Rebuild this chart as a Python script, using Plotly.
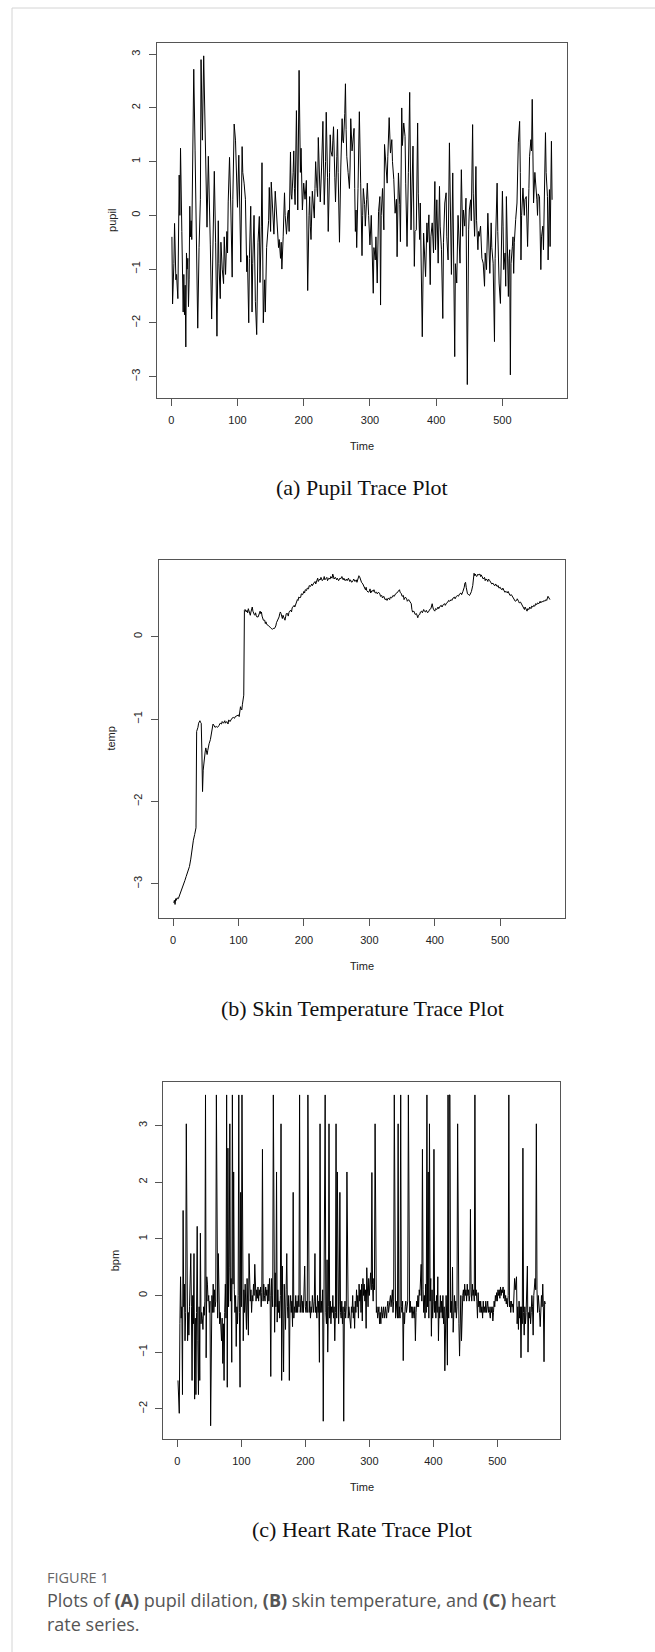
import plotly.graph_objects as go

# ---------------- data ----------------
pupil_time = [1,2,4,5,7,8,10,12,13,14,16,17,18,19,20,21,22,23,24,25,26,27,28,29,30,31,34,36,38,40,42,44,45,47,49,51,54,56,58,59,61,63,65,67,69,71,72,74,75,77,79,80,82,84,85,86,88,90,92,93,95,97,99,100,102,103,105,107,108,110,112,114,115,117,118,120,122,123,125,127,129,131,133,134,136,137,138,139,141,142,144,145,147,148,150,151,152,154,155,157,158,160,162,163,165,166,167,169,171,172,174,176,177,178,180,181,182,184,185,186,187,189,190,191,193,195,196,197,198,200,201,202,204,206,208,209,210,211,213,214,216,217,218,220,221,222,224,225,227,229,230,231,233,234,236,237,239,240,241,243,244,245,247,248,250,251,252,254,256,258,259,260,262,263,264,265,267,269,270,271,273,274,276,277,278,279,280,282,284,286,288,289,290,292,293,295,296,298,300,302,303,305,306,308,309,311,313,315,316,317,319,321,322,324,326,327,329,331,333,334,336,338,340,341,343,345,346,348,349,351,353,354,356,358,360,362,363,365,367,368,370,372,373,375,376,379,381,382,384,386,387,389,391,392,394,396,398,399,401,403,405,406,408,410,411,413,415,416,418,420,421,423,425,426,428,429,431,433,434,436,438,439,440,441,443,445,447,449,450,452,453,455,456,458,460,461,463,464,465,467,468,469,471,473,474,476,478,479,481,483,484,486,488,489,490,492,493,495,497,498,500,501,502,504,505,506,507,509,510,511,512,513,515,516,517,518,520,522,524,526,527,528,529,531,533,534,536,537,538,540,541,543,544,545,546,547,549,550,552,553,554,556,557,558,559,561,562,564,565,566,568,569,570,571,572,573,574,575]
pupil_values = [-0.40,-1.65,-0.90,-0.15,-1.20,-1.10,-1.55,0.75,0.00,1.25,-0.30,-1.00,-1.80,-1.10,-1.85,-1.30,-2.45,-0.70,-1.00,-0.80,-1.70,-1.20,0.17,-0.40,-0.10,-0.45,2.72,1.20,-0.50,-2.10,-0.60,0.30,2.90,1.40,2.97,1.90,-0.22,1.10,0.20,-0.55,-1.93,-0.80,0.82,-0.50,-2.25,-0.10,-0.90,-1.55,-0.50,-1.00,-1.27,-0.40,-1.10,-0.30,-0.70,0.25,1.08,0.10,-1.15,0.30,1.70,1.40,0.50,0.15,1.12,0.30,-0.87,1.28,0.80,0.60,0.30,-1.05,-0.75,-2.00,-0.80,0.17,-1.80,-0.90,0.00,-1.60,-2.22,-0.50,-0.02,-1.25,-0.20,0.98,-0.40,-2.00,-1.20,-1.80,-0.60,-0.45,-0.10,0.52,-0.30,0.62,0.40,0.10,-0.35,0.45,0.18,-0.10,-0.60,-0.45,-0.80,-0.50,-1.00,-0.40,0.42,0.00,-0.35,0.05,0.10,-0.30,1.18,0.40,0.30,0.80,1.20,0.50,0.20,1.95,0.90,0.10,2.70,0.80,1.25,0.60,0.10,0.60,0.50,0.30,0.65,-1.40,0.00,0.35,-0.20,-0.45,0.45,0.20,-0.05,0.50,1.00,0.50,0.35,1.45,0.80,0.25,0.90,1.75,0.90,0.20,1.00,1.92,0.70,-0.30,0.80,1.50,1.20,1.10,1.40,1.65,0.70,0.25,1.10,1.60,0.80,-0.50,0.90,1.80,1.40,1.35,1.90,2.45,1.60,1.10,0.80,0.50,0.90,1.80,1.20,1.35,1.62,0.50,-0.30,0.10,-0.60,0.50,1.93,0.60,-0.75,0.00,0.50,0.20,-0.20,0.30,0.60,0.00,-0.55,0.00,-0.55,-1.45,-0.60,-0.83,-0.40,-1.26,0.07,0.35,-1.67,0.00,0.50,-0.27,1.32,0.95,0.60,1.10,1.82,1.16,1.41,1.00,0.67,0.04,0.30,-0.77,0.79,0.20,-0.49,2.00,1.30,1.72,1.47,0.60,-0.58,0.80,2.29,-0.27,0.50,1.29,-0.95,-0.30,-0.27,1.72,0.40,-0.45,0.23,-2.26,-0.33,-0.60,-1.14,-0.14,-0.50,0.01,-1.29,-0.40,-0.14,-0.70,0.63,-0.64,0.29,-0.89,0.54,-0.20,-0.64,-1.92,-0.50,0.23,0.42,-0.40,-0.83,1.35,0.10,-1.10,0.79,-0.30,-2.63,-0.90,-1.26,0.00,-0.40,-0.89,0.85,0.20,-0.39,0.10,-0.20,0.32,-3.15,-0.27,0.10,0.29,-0.10,1.69,0.40,-0.39,0.91,-0.10,-0.64,-0.30,-0.39,-0.20,-0.52,-0.80,-0.89,-1.32,-0.70,-1.01,0.04,-0.40,-1.08,-0.14,-0.60,-0.89,-2.35,-0.80,-0.20,0.60,-0.30,-1.26,-1.64,-0.60,0.45,-0.20,-1.01,-0.70,-1.32,0.35,-0.40,-1.51,-0.80,-0.64,-2.97,-0.90,-0.58,-0.40,-1.08,-0.50,-0.08,0.23,1.35,1.75,0.80,-0.83,0.00,0.51,0.00,0.30,0.35,-0.20,-0.58,0.50,1.10,1.41,1.20,2.16,1.00,0.23,0.80,0.67,0.29,0.00,0.40,0.35,-0.30,-1.01,-0.40,-0.20,-0.64,0.60,1.54,0.80,0.35,-0.83,0.20,0.48,-0.58,0.10,1.38,0.29]

temp_time = [1,2,3,4,5,6,8,10,12,14,15,17,18,20,22,24,25,27,28,30,31,33,35,36,37,38,39,40,41,42,43,44,45,46,47,48,49,50,51,52,53,54,55,57,58,59,60,61,62,64,66,68,70,72,74,75,77,79,80,82,84,85,87,89,90,92,94,95,97,99,100,101,102,103,104,105,106,107,108,109,110,111,112,113,114,115,116,117,118,119,120,121,122,123,124,125,126,127,128,130,131,132,133,134,135,136,137,138,140,141,142,143,145,147,148,150,152,153,155,157,158,160,162,163,164,165,166,167,168,170,171,172,173,175,176,177,178,180,181,182,184,185,186,188,190,191,192,194,195,196,198,200,201,202,204,205,207,208,210,212,213,215,217,218,220,221,222,224,225,226,228,230,231,232,234,235,236,238,240,241,243,244,245,246,248,250,251,253,255,256,258,260,261,263,265,266,268,270,271,273,275,276,278,280,281,283,284,285,286,288,290,291,293,294,295,296,298,300,301,302,304,306,307,309,311,312,314,316,317,319,320,322,324,326,327,329,331,332,334,336,338,340,342,344,346,347,349,350,352,353,355,357,358,360,362,363,364,365,366,368,370,372,373,374,375,377,378,380,381,383,384,386,387,389,391,392,394,396,397,398,400,401,403,405,406,408,410,411,413,415,416,418,420,421,423,425,426,428,430,431,433,435,436,438,440,441,443,444,445,446,447,448,449,450,452,453,455,456,458,459,460,461,462,463,464,466,467,469,470,471,473,474,476,477,478,480,481,482,484,486,487,489,490,492,493,495,497,498,500,501,503,504,506,507,509,511,512,514,515,517,519,520,522,523,525,526,528,529,531,533,534,536,537,538,540,541,542,544,545,547,548,550,551,553,554,556,557,559,561,562,564,565,567,568,570,571,573,574,576]
temp_values = [-3.23,-3.20,-3.25,-3.18,-3.20,-3.17,-3.18,-3.14,-3.10,-3.06,-3.03,-2.99,-2.96,-2.91,-2.87,-2.82,-2.79,-2.70,-2.62,-2.52,-2.47,-2.40,-2.32,-1.15,-1.13,-1.10,-1.05,-1.02,-1.02,-1.04,-1.05,-1.40,-1.88,-1.62,-1.52,-1.45,-1.40,-1.35,-1.38,-1.43,-1.38,-1.33,-1.30,-1.25,-1.20,-1.15,-1.09,-1.06,-1.07,-1.10,-1.09,-1.10,-1.08,-1.05,-1.06,-1.03,-1.05,-1.02,-1.05,-1.03,-1.06,-1.01,-1.03,-1.00,-0.99,-0.98,-0.99,-0.97,-0.96,-0.95,-0.95,-0.97,-0.90,-0.85,-0.88,-0.89,-0.82,-0.78,-0.71,0.32,0.33,0.31,0.30,0.32,0.29,0.34,0.32,0.30,0.26,0.30,0.33,0.36,0.31,0.28,0.27,0.26,0.29,0.26,0.24,0.24,0.27,0.30,0.31,0.28,0.30,0.25,0.22,0.20,0.20,0.16,0.18,0.15,0.14,0.12,0.11,0.10,0.09,0.10,0.10,0.13,0.17,0.20,0.24,0.28,0.30,0.28,0.25,0.22,0.26,0.22,0.20,0.24,0.28,0.28,0.25,0.29,0.31,0.32,0.30,0.35,0.37,0.38,0.36,0.42,0.45,0.44,0.48,0.47,0.48,0.52,0.51,0.55,0.53,0.57,0.56,0.59,0.58,0.62,0.61,0.64,0.62,0.65,0.67,0.64,0.69,0.71,0.67,0.70,0.69,0.72,0.68,0.70,0.73,0.69,0.71,0.72,0.68,0.71,0.70,0.73,0.71,0.76,0.74,0.70,0.72,0.69,0.71,0.68,0.71,0.70,0.73,0.69,0.71,0.68,0.70,0.68,0.71,0.67,0.69,0.66,0.68,0.70,0.67,0.69,0.66,0.71,0.74,0.73,0.70,0.66,0.64,0.62,0.60,0.57,0.60,0.56,0.54,0.55,0.58,0.53,0.56,0.55,0.57,0.53,0.54,0.52,0.54,0.52,0.49,0.50,0.47,0.49,0.45,0.46,0.44,0.47,0.45,0.48,0.47,0.50,0.49,0.52,0.53,0.55,0.57,0.54,0.52,0.49,0.50,0.45,0.48,0.46,0.43,0.45,0.43,0.42,0.40,0.33,0.30,0.31,0.27,0.28,0.25,0.23,0.26,0.27,0.30,0.31,0.29,0.33,0.31,0.30,0.32,0.29,0.31,0.33,0.34,0.40,0.36,0.33,0.31,0.34,0.33,0.36,0.34,0.37,0.38,0.36,0.39,0.40,0.38,0.41,0.42,0.44,0.43,0.45,0.44,0.47,0.48,0.46,0.49,0.50,0.49,0.52,0.53,0.51,0.55,0.57,0.60,0.65,0.66,0.60,0.55,0.52,0.51,0.50,0.53,0.55,0.62,0.72,0.77,0.74,0.76,0.74,0.73,0.76,0.75,0.76,0.73,0.75,0.72,0.70,0.72,0.68,0.70,0.69,0.67,0.70,0.68,0.66,0.64,0.65,0.63,0.62,0.64,0.61,0.62,0.59,0.60,0.58,0.57,0.59,0.56,0.54,0.55,0.53,0.55,0.52,0.50,0.51,0.48,0.47,0.45,0.43,0.44,0.46,0.43,0.41,0.42,0.39,0.37,0.35,0.33,0.36,0.32,0.31,0.34,0.33,0.36,0.34,0.37,0.36,0.38,0.37,0.40,0.39,0.41,0.40,0.43,0.41,0.43,0.42,0.44,0.43,0.45,0.44,0.49,0.47,0.45]

bpm_values = [
 -1.50,-1.80,-2.08,-0.50,0.33,-0.40,-0.20,-1.75,1.50,-0.20,
 0.20,-0.80,-0.30,3.03,-0.20,-0.80,-0.30,-0.70,-0.20,0.52,
 0.74,-0.20,-1.50,0.00,-0.50,0.74,-1.83,-0.40,-1.75,-0.30,
 1.22,-0.80,-1.75,-0.20,-1.50,1.10,-0.50,-0.30,-0.40,-0.60,
 -0.20,-0.35,-0.10,3.54,-1.10,0.33,0.20,-0.10,0.00,-0.30,
 -0.10,-2.30,-0.20,0.00,-0.30,0.20,-0.30,0.10,-0.20,-0.10,
 3.54,0.20,-0.40,0.74,-0.10,-0.50,-0.30,-0.50,-0.80,-0.40,
 -1.20,-0.50,-1.50,-0.30,0.20,-0.40,3.54,-1.62,2.60,-0.20,
 0.50,3.03,-0.10,0.30,-1.18,3.54,0.20,2.18,0.10,-0.30,
 0.00,-0.90,-0.20,-0.50,0.00,3.54,-0.30,-1.62,1.82,-0.20,
 3.54,-0.10,-0.80,0.10,-0.30,0.20,-0.40,-0.60,0.30,-0.20,
 -0.70,0.74,0.00,-0.10,0.10,-0.30,0.00,-0.10,0.20,0.00,
 0.55,0.00,-0.10,0.10,-0.05,0.15,-0.10,0.10,0.00,0.15,
 -0.20,0.05,2.58,-0.10,0.20,0.00,-0.10,0.15,0.00,0.10,
 -0.15,0.20,-0.10,0.30,0.00,-1.43,0.30,0.00,-0.20,3.54,
 0.20,-0.65,0.40,-0.20,2.18,-0.47,0.10,-0.30,-0.10,-0.40,
 0.00,3.03,-1.50,0.52,-0.40,-1.35,0.20,-0.30,-0.60,0.10,
 0.74,-0.20,-0.40,0.00,-1.50,-0.20,0.00,-0.30,-0.10,-0.55,
 1.82,-0.40,-0.20,-0.30,0.00,-0.30,-0.10,-0.30,0.00,-0.20,
 3.54,-0.30,-0.20,0.00,-0.30,-0.10,-0.30,0.00,0.52,-0.20,
 -0.30,-0.10,-0.30,3.54,-0.20,-0.30,-0.10,-0.40,-0.20,-0.30,
 0.00,-0.20,-0.30,-0.10,0.74,-0.30,-0.20,-0.40,0.00,-0.30,
 -0.10,-1.18,3.03,-0.30,-0.10,-0.30,0.10,-2.22,-0.20,-0.40,
 3.54,-0.30,-0.50,0.63,-1.00,-0.20,3.03,-0.40,-0.10,-0.50,
 -0.20,-0.30,0.00,-0.40,-0.20,-0.80,-0.30,3.03,-0.40,2.18,
 -0.20,-0.50,-0.10,1.82,-0.30,-0.40,-0.10,-0.50,-0.20,-2.22,
 -0.30,-0.10,-0.40,-0.20,2.18,-0.30,-0.40,-0.20,-0.30,-0.40,
 -0.58,-0.20,-0.30,0.00,-0.40,-0.20,-0.58,-0.10,-0.30,0.10,
 -0.20,0.00,-0.40,0.20,-0.10,0.10,-0.30,0.20,-0.45,0.30,
 0.00,0.20,-0.10,0.10,-0.58,0.49,0.10,-0.20,0.30,0.00,
 0.20,0.40,0.10,2.17,0.20,-0.10,0.30,0.10,3.03,0.20,
 -0.30,-0.20,-0.40,-0.30,-0.20,-0.50,-0.30,-0.50,-0.20,-0.30,
 -0.40,-0.20,-0.30,-0.40,-0.20,-0.30,-0.40,-0.20,-0.10,-0.30,
 -0.20,-0.10,0.00,-0.20,-0.10,0.10,-0.30,-0.10,3.54,-0.20,
 -0.40,-0.10,-0.30,-0.40,3.03,-0.40,-0.20,-0.40,3.54,-0.20,
 -0.30,-0.10,-1.15,-0.30,-0.50,-0.20,-0.10,-0.30,-0.20,-0.10,
 3.54,-0.20,-0.30,-0.10,-0.30,-0.20,-0.40,-0.20,-0.30,-0.40,
 -0.20,-0.80,-0.30,-0.10,-0.20,0.00,-0.20,0.10,0.00,0.30,
 0.55,-0.10,2.58,0.10,-0.30,0.00,-0.40,0.20,-0.30,3.54,
 -0.20,2.18,-0.40,3.03,-0.10,0.30,-0.72,0.10,-0.40,-0.10,
 2.58,-0.30,-0.10,-0.40,0.00,-0.30,0.33,-0.80,-0.20,-0.40,
 0.00,-0.30,-0.10,-0.40,0.00,-0.50,-0.20,-1.33,-0.30,0.00,
 -0.40,-1.23,3.54,-0.40,3.54,3.54,-0.30,-0.10,-0.40,0.50,
 -0.65,-0.20,0.00,-0.30,-0.10,-0.40,-0.20,3.03,-0.20,-0.50,
 -1.07,-0.30,0.00,-0.80,-0.10,0.00,0.10,-0.10,0.20,0.00,
 0.10,-0.10,0.20,0.00,0.10,-0.10,0.00,1.52,0.10,-0.10,
 0.20,0.00,0.10,-0.10,3.54,0.00,0.10,-0.10,-0.40,0.05,
 -0.20,-0.10,-0.30,-0.10,-0.30,-0.20,-0.40,-0.10,-0.30,-0.20,
 -0.30,-0.10,-0.30,-0.20,-0.10,-0.30,-0.20,-0.30,-0.40,-0.20,
 -0.30,-0.20,-0.45,-0.30,-0.10,-0.20,0.00,-0.10,0.05,-0.10,
 0.10,0.00,0.10,-0.05,0.15,0.00,0.10,0.05,0.15,-0.05,
 0.10,-0.10,0.00,-0.15,-0.05,-0.20,0.00,3.54,-0.20,-0.10,
 -0.30,-0.10,-0.20,-0.15,-0.30,0.10,0.30,0.10,0.30,0.33,
 -0.50,-0.20,-0.60,-0.10,-0.40,-0.20,-1.10,-0.20,-0.50,2.60,
 -0.30,-0.70,-0.20,-0.50,-0.30,0.10,0.52,-1.00,-0.30,-0.40,
 -0.20,-0.50,-0.30,0.00,-0.20,-0.70,0.00,0.20,0.30,0.10,
 3.03,0.10,-0.30,0.00,-0.10,-0.30,-0.55,-0.10,0.00,-0.20,
 0.20,-0.20,-1.17,-0.10,-0.15]
bpm_time = list(range(1, len(bpm_values) + 1))

x_ticks = [0, 100, 200, 300, 400, 500]
pupil_ticks = [-3, -2, -1, 0, 1, 2, 3]
temp_ticks = [-3, -2, -1, 0]
bpm_ticks = [-2, -1, 0, 1, 2, 3]

panel_titles = ["(a) Pupil Trace Plot", "(b) Skin Temperature Trace Plot", "(c) Heart Rate Trace Plot"]
y_titles = ["pupil", "temp", "bpm"]

# ---------------- layout helpers ----------------
W, H = 655, 1652
def px(x):
    return x / W
def py(y):
    return 1 - y / H

def rrange(vals):
    lo, hi = min(vals), max(vals)
    d = (hi - lo) * 0.04
    return [lo - d, hi + d]

# panel boxes in pixels: (left, right, top, bottom)
boxes = [(156.7, 567.3, 42.7, 397.7), (158.7, 565.0, 560.0, 917.7), (163.3, 560.0, 1081.7, 1439.0)]
title_y = [488, 1008, 1529]
time_y = [446, 966, 1487]
ylab_x = [111.7, 110.7, 115.0]

series = [(pupil_time, pupil_values, pupil_ticks), (temp_time, temp_values, temp_ticks), (bpm_time, bpm_values, bpm_ticks)]

fig = go.Figure()
tickfont = dict(family="Liberation Sans, Arial, sans-serif", size=11, color="#222")
axis_common = dict(showline=True, mirror=True, linecolor="#555", linewidth=1,
                   ticks="outside", ticklen=7, tickwidth=1, tickcolor="#555",
                   showgrid=False, zeroline=False, tickfont=tickfont)

annotations = []
for i, (t, v, yt) in enumerate(series):
    n = "" if i == 0 else str(i + 1)
    fig.add_trace(go.Scatter(x=t, y=v, mode="lines", line=dict(color="black", width=1),
                             xaxis="x" + n, yaxis="y" + n, hoverinfo="skip"))
    l, r, tp, b = boxes[i]
    fig.layout["xaxis" + n] = dict(axis_common, domain=[px(l), px(r)], anchor="y" + n,
                                   range=rrange(t), tickvals=x_ticks, ticklabelstandoff=5)
    fig.layout["yaxis" + n] = dict(axis_common, domain=[py(b), py(tp)], anchor="x" + n,
                                   range=rrange(v), tickvals=yt, tickangle=-90, ticklabelstandoff=4)
    cx = (l + r) / 2
    annotations.append(dict(text="Time", x=px(cx), y=py(time_y[i]), xref="paper", yref="paper",
                            showarrow=False, xanchor="center", yanchor="middle",
                            font=dict(family="Liberation Sans, Arial, sans-serif", size=11, color="#222")))
    annotations.append(dict(text=y_titles[i], x=px(ylab_x[i]), y=py((tp + b) / 2), xref="paper", yref="paper",
                            showarrow=False, xanchor="center", yanchor="middle", textangle=-90,
                            font=dict(family="Liberation Sans, Arial, sans-serif", size=11, color="#222")))
    annotations.append(dict(text=panel_titles[i], x=px(362), y=py(title_y[i]), xref="paper", yref="paper",
                            showarrow=False, xanchor="center", yanchor="middle",
                            font=dict(family="Liberation Serif, Times New Roman, serif", size=22, color="#111")))

annotations.append(dict(text="FIGURE 1", x=px(45), y=py(1577), xref="paper", yref="paper",
                        showarrow=False, xanchor="left", yanchor="middle",
                        font=dict(family="Open Sans, Noto Sans, sans-serif", size=14.5, color="#666")))
annotations.append(dict(text="Plots of <b>(A)</b> pupil dilation, <b>(B)</b> skin temperature, and <b>(C)</b> heart",
                        x=px(45), y=py(1600), xref="paper", yref="paper",
                        showarrow=False, xanchor="left", yanchor="middle",
                        font=dict(family="Open Sans, Noto Sans, sans-serif", size=18, color="#555")))
annotations.append(dict(text="rate series.", x=px(45), y=py(1624), xref="paper", yref="paper",
                        showarrow=False, xanchor="left", yanchor="middle",
                        font=dict(family="Open Sans, Noto Sans, sans-serif", size=18, color="#555")))

shapes = [
    dict(type="line", xref="paper", yref="paper", x0=px(12), x1=1, y0=py(8), y1=py(8),
         line=dict(color="#d4d4d4", width=1)),
    dict(type="line", xref="paper", yref="paper", x0=px(12), x1=px(12), y0=py(8), y1=0,
         line=dict(color="#d4d4d4", width=1)),
]

fig.update_layout(width=W, height=H, margin=dict(l=0, r=0, t=0, b=0),
                  paper_bgcolor="white", plot_bgcolor="white", showlegend=False,
                  annotations=annotations, shapes=shapes)

fig.write_html("out.html", config={"displayModeBar": False},
               post_script="document.body.style.margin='0';document.body.style.overflow='hidden';")
